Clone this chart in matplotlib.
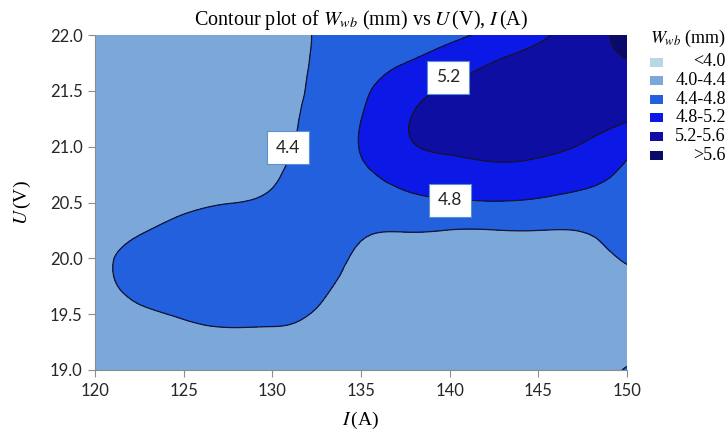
import numpy as np
import matplotlib
matplotlib.use("Agg")
import matplotlib.pyplot as plt
from matplotlib.patches import Rectangle
from matplotlib.tri import Triangulation, UniformTriRefiner

plt.rcParams['mathtext.fontset'] = 'stix'

# ---- data ----
current_A = [120, 122.5, 125, 127.5, 130, 132.5, 135, 137.5, 140, 142.5, 145, 147.5, 150]
voltage_V = [19.0, 19.25, 19.5, 19.75, 20.0, 20.25, 20.5, 20.75, 21.0, 21.25, 21.5, 21.75, 22.0]

# W_wb (mm), one list per current value, from U=19.0 up to U=22.0
w_I120 = [4.12, 4.18, 4.24, 4.30, 4.31, 4.28, 4.24, 4.20, 4.18, 4.16, 4.15, 4.15, 4.15]
w_I122 = [4.15, 4.24, 4.36, 4.46, 4.48, 4.38, 4.30, 4.25, 4.22, 4.20, 4.19, 4.19, 4.20]
w_I125 = [4.17, 4.30, 4.42, 4.50, 4.53, 4.47, 4.35, 4.28, 4.25, 4.23, 4.22, 4.22, 4.23]
w_I127 = [4.20, 4.33, 4.46, 4.55, 4.58, 4.52, 4.395, 4.31, 4.28, 4.26, 4.26, 4.26, 4.27]
w_I130 = [4.22, 4.34, 4.45, 4.56, 4.60, 4.56, 4.45, 4.37, 4.34, 4.34, 4.335, 4.33, 4.33]
w_I132 = [4.25, 4.32, 4.38, 4.48, 4.55, 4.58, 4.57, 4.54, 4.505, 4.465, 4.44, 4.423, 4.411]
w_I135 = [4.27, 4.25, 4.25, 4.28, 4.35, 4.44, 4.58, 4.72, 4.82, 4.795, 4.72, 4.62, 4.52]
w_I137 = [4.30, 4.27, 4.26, 4.28, 4.32, 4.41, 4.68, 4.95, 5.15, 5.17, 5.05, 4.80, 4.62]
w_I140 = [4.32, 4.29, 4.27, 4.28, 4.32, 4.395, 4.75, 5.05, 5.25, 5.32, 5.25, 5.00, 4.72]
w_I142 = [4.33, 4.31, 4.29, 4.29, 4.32, 4.395, 4.78, 5.10, 5.30, 5.38, 5.35, 5.21, 4.90]
w_I145 = [4.33, 4.31, 4.30, 4.30, 4.33, 4.40, 4.74, 5.06, 5.28, 5.40, 5.43, 5.35, 5.12]
w_I147 = [4.30, 4.28, 4.27, 4.28, 4.32, 4.41, 4.67, 4.93, 5.17, 5.36, 5.48, 5.50, 5.42]
w_I150 = [4.42, 4.30, 4.26, 4.30, 4.43, 4.55, 4.64, 4.74, 4.90, 5.24, 5.45, 5.58, 5.70]

levels = [3.0, 4.0, 4.4, 4.8, 5.2, 5.6, 6.5]
legend_labels = ["<4.0", "4.0-4.4", "4.4-4.8", "4.8-5.2", "5.2-5.6", ">5.6"]
band_colors = ["#b8d8e6", "#7ba7d9", "#2360de", "#0c18e6", "#0e0ea2", "#0a0a6a"]
xticks = [120, 125, 130, 135, 140, 145, 150]
yticks = [19.0, 19.5, 20.0, 20.5, 21.0, 21.5, 22.0]

# ---- figure ----
W = np.array([w_I120, w_I122, w_I125, w_I127, w_I130, w_I132, w_I135,
              w_I137, w_I140, w_I142, w_I145, w_I147, w_I150]).T

# triangulate the measured grid (in index space), let matplotlib smooth it
ni, nj = len(current_A), len(voltage_V)
ii, jj = np.meshgrid(np.arange(ni), np.arange(nj))
tris = []
for j in range(nj - 1):
    for i in range(ni - 1):
        a = j*ni + i
        b = a + 1
        c = a + ni
        d = c + 1
        tris.append([a, b, d])
        tris.append([a, d, c])
tri_idx = Triangulation(ii.ravel().astype(float), jj.ravel().astype(float), np.array(tris))
tri_fine, w_fine = UniformTriRefiner(tri_idx).refine_field(W.ravel(), subdiv=3)
x_fine = np.interp(tri_fine.x, np.arange(ni), current_A)
y_fine = np.interp(tri_fine.y, np.arange(nj), voltage_V)
tri_data = Triangulation(x_fine, y_fine, tri_fine.triangles)

fig = plt.figure(figsize=(7.28, 4.38), dpi=100)
ax = fig.add_axes([95/728, 1-370/438, 532/728, 335/438])

ax.tricontourf(tri_data, w_fine, levels=levels, colors=band_colors)
ax.tricontour(tri_data, w_fine, levels=levels[2:-1], colors="#14142e", linewidths=0.9)

ax.set_xlim(120, 150)
ax.set_ylim(19, 22)
ax.set_xticks(xticks)
ax.set_yticks(yticks)
ax.set_xticklabels([f"{v}" for v in xticks])
ax.set_yticklabels([f"{v:.1f}" for v in yticks])
for lab in ax.get_xticklabels() + ax.get_yticklabels():
    lab.set_fontfamily("Lato")
    lab.set_fontsize(12)
    lab.set_color("#262626")
ax.tick_params(axis="both", direction="out", length=5, width=0.8, color="#8c8c8c", pad=4)
for s in ["top", "right"]:
    ax.spines[s].set_visible(False)
for s in ["left", "bottom"]:
    ax.spines[s].set_color("#8c8c8c")
    ax.spines[s].set_linewidth(0.8)

ax.set_xlabel(r"$I\,$(A)", fontsize=14, family="Liberation Serif", labelpad=8)
ax.set_ylabel(r"$U\,$(V)", fontsize=14, family="Liberation Serif", labelpad=12)
ax.set_title(r"Contour plot of $W_{wb}$ (mm) vs $U\,$(V), $I\,$(A)",
             fontsize=14.5, family="Liberation Serif", pad=7)

# contour labels
for txt, (xi, yu) in [("4.4", (130.9, 20.99)), ("4.8", (140.0, 20.52)), ("5.2", (139.9, 21.62))]:
    ax.text(xi, yu, txt, ha="center", va="center", fontsize=12.5, family="Lato", color="#262626",
            bbox=dict(boxstyle="square,pad=0.5", fc="white", ec="#5b8fd0", lw=0.8))

# legend
fig.text(688/728, 1-38/438, r"$W_{wb}$ (mm)", ha="center", va="center",
         fontsize=13, family="Liberation Serif")
for i, (lab, col) in enumerate(zip(legend_labels, band_colors)):
    yc = 1 - (62 + i*18.6)/438
    fig.patches.append(Rectangle((650/728, yc - 4.5/438), 13/728, 9/438,
                                 transform=fig.transFigure, fc=col, ec="none"))
    fig.text(726/728, yc, lab, ha="right", va="center", fontsize=13, family="Liberation Serif")

fig.savefig("out.png", dpi=100)
